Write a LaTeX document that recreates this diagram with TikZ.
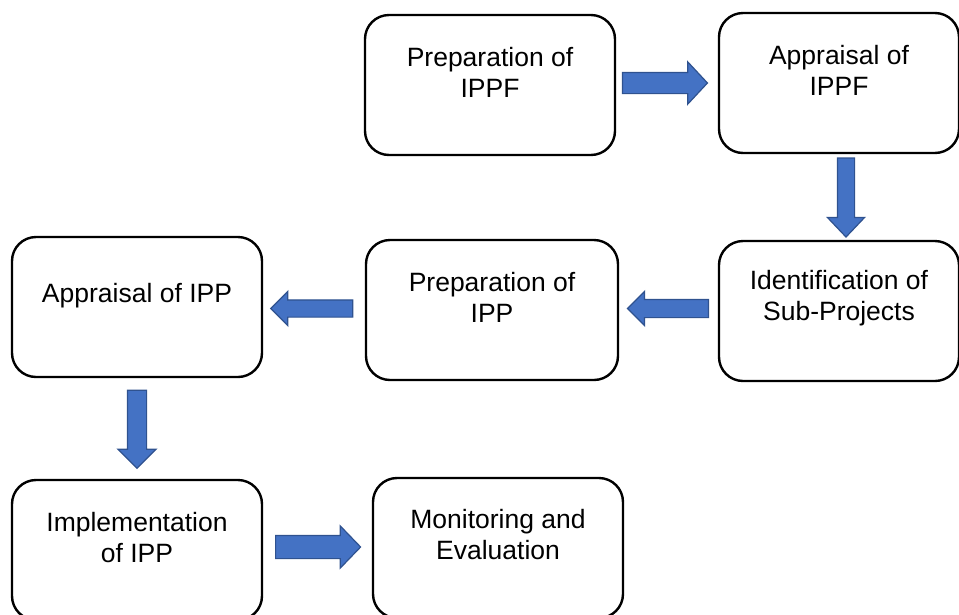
\documentclass[tikz,border=0pt]{standalone}
\usepackage{fontspec}
\setmainfont{Liberation Sans}
\usetikzlibrary{shapes.arrows,calc}
\definecolor{arrfill}{HTML}{4472C4}
\definecolor{arredge}{HTML}{2F528F}
\tikzset{
  box/.style={draw=black, line width=2.4pt, rounded corners=24pt, fill=white,
    minimum width=250pt, minimum height=140pt, inner sep=0pt, outer sep=0pt},
  label text/.style={font=\fontsize{26.5}{31}\selectfont, align=center, inner sep=0pt, text=black},
  blockarrow/.style={single arrow, fill=arrfill, draw=arredge, line width=1.2pt,
    single arrow head indent=0pt, inner xsep=0pt, outer sep=0pt, anchor=center}
}
\begin{document}
\begin{tikzpicture}[x=1pt,y=-1pt]
\useasboundingbox (0,0) rectangle (959,614);
% boxes
\node[box] (b1) at (490,85) {};
\node[box, minimum width=240pt] (b2) at (839,83) {};
\node[box, minimum width=240pt] (b3) at (839,311) {};
\node[box, minimum width=252pt] (b4) at (492,310) {};
\node[box] (b5) at (137,307) {};
\node[box] (b6) at (137,550) {};
\node[box] (b7) at (498,548) {};
% texts
\node[label text] (t1) at ([yshift=13pt]b1.center) {Preparation of\\IPPF};
\node[label text] (t2) at ([yshift=13pt]b2.center) {Appraisal of\\IPPF};
\node[label text] (t3) at ([yshift=12.5pt]b3.center) {Identification of\\Sub-Projects};
\node[label text] (t4) at ([yshift=12.5pt]b4.center) {Preparation of\\IPP};
\node[label text] (t5) at ([yshift=11.5pt]b5.center) {Appraisal of IPP};
\node[label text] (t6) at ([yshift=12.5pt]b6.center) {Implementation\\of IPP};
\node[label text] (t7) at ([yshift=13pt]b7.center) {Monitoring and\\Evaluation};
% block arrows
\node[blockarrow, minimum height=85pt, inner ysep=10pt, single arrow head extend=10.5pt, single arrow tip angle=94]
  (a1) at ($(b1.east)!0.5!(b2.west)+(-7,-1)$) {};
\node[blockarrow, rotate=-90, minimum height=79pt, inner ysep=8pt, single arrow head extend=10pt, single arrow tip angle=87]
  (a2) at ($(b2.south)!0.5!(b3.north)+(7,-4)$) {};
\node[blockarrow, rotate=180, minimum height=81pt, inner ysep=8.5pt, single arrow head extend=8pt, single arrow tip angle=90]
  (a3) at ($(b4.east)!0.5!(b3.west)+(4,-2)$) {};
\node[blockarrow, rotate=180, minimum height=82pt, inner ysep=8pt, single arrow head extend=8.5pt, single arrow tip angle=90]
  (a4) at ($(b5.east)!0.5!(b4.west)+(2,0)$) {};
\node[blockarrow, rotate=-90, minimum height=78pt, inner ysep=9pt, single arrow head extend=9.5pt, single arrow tip angle=90]
  (a5) at ($(b5.south)!0.5!(b6.north)+(0,-4)$) {};
\node[blockarrow, minimum height=85pt, inner ysep=11pt, single arrow head extend=9.5pt, single arrow tip angle=92]
  (a6) at ($(b6.east)!0.5!(b7.west)+(-5,-2)$) {};
\end{tikzpicture}
\end{document}
